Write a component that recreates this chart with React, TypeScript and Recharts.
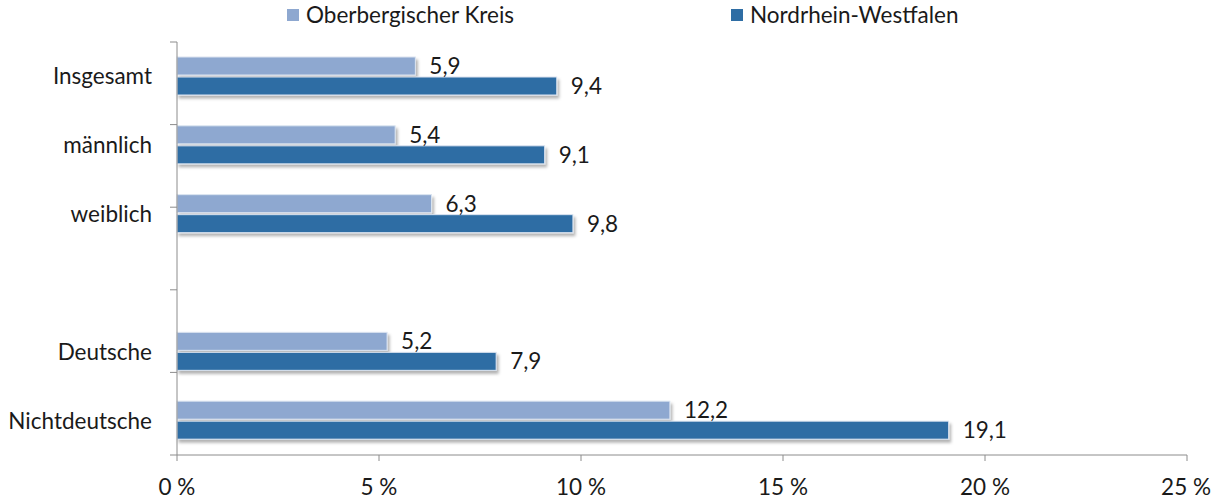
import { BarChart, Bar, XAxis, YAxis, LabelList } from 'recharts';

const categories = ['Insgesamt', 'männlich', 'weiblich', '', 'Deutsche', 'Nichtdeutsche'];
const oberbergValues = [5.9, 5.4, 6.3, null, 5.2, 12.2];
const nrwValues = [9.4, 9.1, 9.8, null, 7.9, 19.1];
const xTicks = [0, 5, 10, 15, 20, 25];
const bandTicks = [0, 1, 2, 3, 4, 5, 6];

const data = categories.map((name, i) => ({
  name,
  oberberg: oberbergValues[i],
  nrw: nrwValues[i],
}));

const FONT = 'Lato, "Open Sans", sans-serif';
const TEXT = '#1a1a1a';
const AXIS = '#8c8c8c';
const FS = 22.5;

const fmt = (v: unknown) => (v == null ? '' : String(v).replace('.', ','));

const ShadowRect = (props: any) => {
  const { x, y, width, height, fill } = props;
  if (!width || width <= 0) return null;
  return (
    <rect x={x} y={y} width={width} height={height} fill={fill}
      stroke="#dbe4f0" strokeWidth={1} filter="url(#barShadow)" />
  );
};

const LegendItem = ({ left, color, label }: { left: number; color: string; label: string }) => (
  <div style={{ position: 'absolute', left, top: 0, display: 'flex', alignItems: 'center', gap: 7 }}>
    <span style={{ width: 12, height: 12, backgroundColor: color, display: 'inline-block' }} />
    <span>{label}</span>
  </div>
);

export default function App() {
  return (
    <div style={{ position: 'absolute', left: 0, top: 0, width: 1211, height: 501, fontFamily: FONT }}>
      <div style={{ position: 'absolute', top: 1, left: 0, width: 1211, height: 30, color: TEXT, fontSize: FS }}>
        <LegendItem left={287} color="#8EA8D0" label="Oberbergischer Kreis" />
        <LegendItem left={731} color="#2E6DA4" label="Nordrhein-Westfalen" />
      </div>
      <BarChart
        width={1211}
        height={501}
        data={data}
        layout="vertical"
        margin={{ top: 42, right: 24, left: 0, bottom: 6 }}
        barSize={18}
        barGap={2}
      >
        <defs>
          <filter id="barShadow" x="-5%" y="-30%" width="115%" height="190%">
            <feDropShadow dx="2" dy="3" stdDeviation="1.5" floodColor="#000" floodOpacity="0.3" />
          </filter>
        </defs>
        <YAxis
          yAxisId="b_cat"
          type="category"
          dataKey="name"
          width={176}
          axisLine={false}
          tickLine={false}
          tickMargin={18}
          tick={{ fill: TEXT, fontSize: FS, fontFamily: FONT }}
        />
        <YAxis
          yAxisId="a_grid"
          type="number"
          domain={[0, 6]}
          ticks={bandTicks}
          width={1}
          tick={() => <g />}
          tickSize={7}
          tickLine={{ stroke: AXIS }}
          axisLine={{ stroke: AXIS }}
        />
        <XAxis
          type="number"
          domain={[0, 25]}
          ticks={xTicks}
          height={40}
          tickFormatter={(v) => `${v} %`}
          tick={{ fill: TEXT, fontSize: FS, fontFamily: FONT }}
          tickSize={6}
          tickMargin={18}
          tickLine={{ stroke: AXIS }}
          axisLine={{ stroke: AXIS }}
        />
        <Bar yAxisId="b_cat" dataKey="oberberg" name="Oberbergischer Kreis" fill="#8EA8D0"
          isAnimationActive={false} shape={<ShadowRect />}>
          <LabelList dataKey="oberberg" position="right" offset={14} formatter={fmt}
            style={{ fill: TEXT, fontSize: FS, fontFamily: FONT }} />
        </Bar>
        <Bar yAxisId="b_cat" dataKey="nrw" name="Nordrhein-Westfalen" fill="#2E6DA4"
          isAnimationActive={false} shape={<ShadowRect />}>
          <LabelList dataKey="nrw" position="right" offset={14} formatter={fmt}
            style={{ fill: TEXT, fontSize: FS, fontFamily: FONT }} />
        </Bar>
      </BarChart>
    </div>
  );
}
